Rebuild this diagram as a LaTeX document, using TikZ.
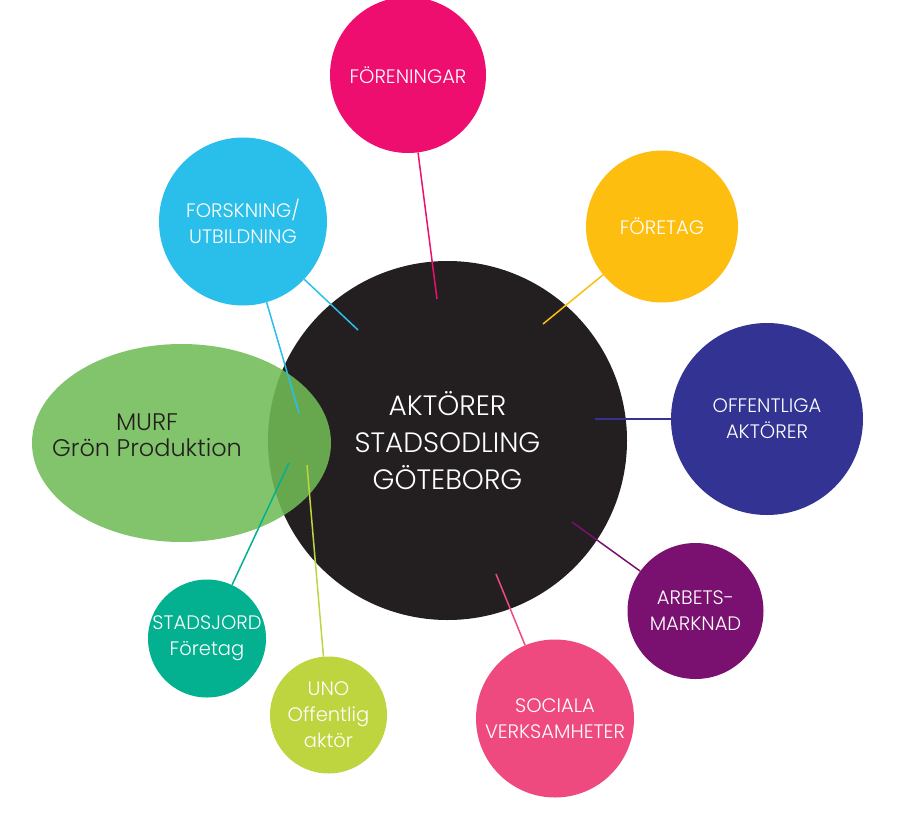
\documentclass[tikz,border=0pt]{standalone}
\usepackage{fontspec}
\setmainfont{Poppins Light}
\usetikzlibrary{shapes.geometric}
\definecolor{hubc}{HTML}{231F20}
\definecolor{murfc}{RGB}{113,188,86}
\definecolor{forenc}{HTML}{EE0E6F}
\definecolor{forskc}{HTML}{2ABFEA}
\definecolor{foretc}{HTML}{FDBE10}
\definecolor{offc}{HTML}{323392}
\definecolor{arbc}{HTML}{7A1170}
\definecolor{socc}{HTML}{EF4A7F}
\definecolor{jordc}{HTML}{03B08F}
\definecolor{unoc}{HTML}{BED53F}
\begin{document}
\begin{tikzpicture}[x=1pt,y=-1pt,
  bubble/.style={circle, inner sep=0pt, text=white, align=center,
    font=\fontsize{19.5}{26}\selectfont},
  link/.style={line width=1.5pt}]
\useasboundingbox (0,0) rectangle (897,817);
% centre and the green ellipse
\node[circle, fill=hubc, minimum size=359pt, inner sep=0pt, text=white, align=center,
  font=\fontsize{28}{37}\selectfont] (hub) at (447.5,440.5) {AKTÖRER\\STADSODLING\\GÖTEBORG};
\node[ellipse, fill=murfc, fill opacity=.88, minimum width=299pt, minimum height=198pt,
  inner sep=0pt] (murf) at (181.5,443) {};
\node[text=hubc, align=center, font=\fontsize{24}{26}\selectfont] (murftxt) at (147,435)
  {MURF\\Grön Produktion};
% the actors
\node[bubble, fill=forenc, minimum size=156pt] (foren) at (408,75) {FÖRENINGAR};
\node[bubble, fill=forskc, minimum size=168pt] (forsk) at (243,221.5) {FORSKNING/\\UTBILDNING};
\node[bubble, fill=foretc, minimum size=152pt] (foret) at (662,226.5) {FÖRETAG};
\node[bubble, fill=offc, minimum size=192pt] (off) at (767,419) {OFFENTLIGA\\AKTÖRER};
\node[bubble, fill=arbc, minimum size=136pt] (arb) at (695.5,611) {ARBETS-\\MARKNAD};
\node[bubble, fill=socc, minimum size=158pt] (soc) at (555,718.5) {SOCIALA\\VERKSAMHETER};
\node[bubble, fill=jordc, minimum size=118pt] (jord) at (207,638.5) {STADSJORD\\Företag};
\node[bubble, fill=unoc, minimum size=117pt] (uno) at (328.5,715) {UNO\\Offentlig\\aktör};
% free ends inside the centre
\coordinate (foren-end) at (437,299);
\coordinate (forsk-a) at (358,330);
\coordinate (forsk-b) at (299,413);
\coordinate (foret-end) at (543,324);
\coordinate (off-end) at (595,419);
\coordinate (arb-end) at (572,522);
\coordinate (soc-end) at (496,574);
\coordinate (jord-end) at (289,463);
\coordinate (uno-end) at (307,465);
\draw[link, forenc] (foren) -- (foren-end);
\draw[link, forskc] (forsk) -- (forsk-a);
\draw[link, forskc] (forsk) -- (forsk-b);
\draw[link, foretc] (foret) -- (foret-end);
\draw[link, offc] (off) -- (off-end);
\draw[link, arbc] (arb) -- (arb-end);
\draw[link, socc] (soc) -- (soc-end);
\draw[link, jordc] (jord) -- (jord-end);
\draw[link, unoc] (uno) -- (uno-end);
\end{tikzpicture}
\end{document}
